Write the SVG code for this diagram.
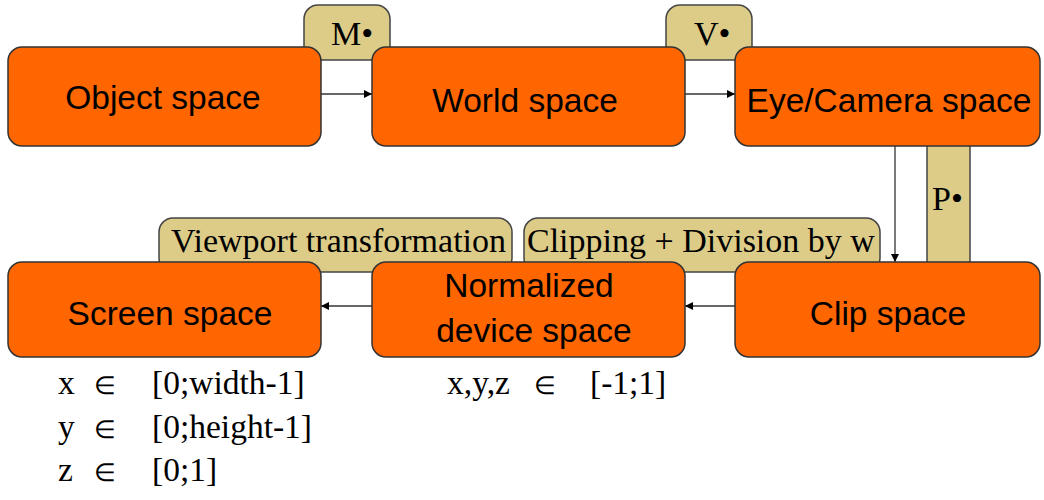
<svg xmlns="http://www.w3.org/2000/svg" width="1044" height="500" viewBox="0 0 1044 500">
  <style>
    .box { fill: #FF6600; stroke: #333; stroke-width: 1.5; }
    .tag { fill: #DDCC88; stroke: #444; stroke-width: 1.5; }
    .btxt { font-family: "Liberation Sans", Arial, sans-serif; font-size: 33.5px; fill: #000; text-anchor: middle; }
    .ttxt { font-family: "Liberation Serif", "Times New Roman", serif; font-size: 34px; fill: #000; }
    .rtxt { font-family: "Liberation Serif", "Times New Roman", serif; font-size: 33.5px; fill: #000; }
    .elem { font-family: "DejaVu Sans", sans-serif; font-weight: 200; font-size: 25px; }
    .conn { stroke: #333; stroke-width: 1.3; fill: none; marker-end: url(#arrow); }
  </style>
  <defs>
    <marker id="arrow" viewBox="0 0 10 10" refX="10" refY="5" markerWidth="8" markerHeight="8" markerUnits="userSpaceOnUse" orient="auto">
      <path d="M0,0 L10,5 L0,10 z" fill="#000"/>
    </marker>
  </defs>
  <rect width="1044" height="500" fill="#fff"/>

  <!-- transformation tags (drawn under the boxes) -->
  <g id="tag-model">
    <rect class="tag" x="304" y="5" width="86" height="55" rx="14"/>
    <text class="ttxt" x="331" y="45">M•</text>
  </g>
  <g id="tag-view">
    <rect class="tag" x="666" y="5" width="86" height="55" rx="14"/>
    <text class="ttxt" x="694" y="45">V•</text>
  </g>
  <g id="tag-projection">
    <rect class="tag" x="927" y="140" width="43" height="128"/>
    <text class="ttxt" x="932" y="210">P•</text>
  </g>
  <g id="tag-viewport">
    <rect class="tag" x="159" y="218" width="353" height="54" rx="14"/>
    <text class="ttxt" x="171" y="252">Viewport transformation</text>
  </g>
  <g id="tag-clipping">
    <rect class="tag" x="524" y="218" width="356" height="54" rx="14"/>
    <text class="ttxt" x="527" y="252">Clipping + Division by w</text>
  </g>

  <!-- connectors -->
  <g id="connectors">
    <line class="conn" x1="321" y1="94" x2="372" y2="94"/>
    <line class="conn" x1="685" y1="94" x2="735" y2="94"/>
    <line class="conn" x1="895" y1="146" x2="895" y2="262"/>
    <line class="conn" x1="735" y1="306" x2="685" y2="306"/>
    <line class="conn" x1="372" y1="306" x2="321" y2="306"/>
  </g>

  <!-- spaces -->
  <g id="object-space">
    <rect class="box" x="8" y="47" width="313" height="99" rx="14"/>
    <text class="btxt" x="163" y="109">Object space</text>
  </g>
  <g id="world-space">
    <rect class="box" x="372" y="47" width="313" height="99" rx="14"/>
    <text class="btxt" x="525" y="112">World space</text>
  </g>
  <g id="eye-space">
    <rect class="box" x="735" y="47" width="305" height="99" rx="14"/>
    <text class="btxt" x="889" y="112">Eye/Camera space</text>
  </g>
  <g id="screen-space">
    <rect class="box" x="8" y="262" width="313" height="95" rx="14"/>
    <text class="btxt" x="170" y="325">Screen space</text>
  </g>
  <g id="ndc-space">
    <rect class="box" x="372" y="262" width="313" height="95" rx="14"/>
    <text class="btxt" x="529" y="297">Normalized</text>
    <text class="btxt" x="534" y="342">device space</text>
  </g>
  <g id="clip-space">
    <rect class="box" x="735" y="262" width="305" height="95" rx="14"/>
    <text class="btxt" x="888" y="325">Clip space</text>
  </g>

  <!-- value ranges -->
  <g id="screen-ranges">
    <text class="rtxt" y="394"><tspan x="58">x</tspan><tspan class="elem" x="94">∈</tspan><tspan x="152">[0;width-1]</tspan></text>
    <text class="rtxt" y="438"><tspan x="58">y</tspan><tspan class="elem" x="94">∈</tspan><tspan x="152">[0;height-1]</tspan></text>
    <text class="rtxt" y="481"><tspan x="58">z</tspan><tspan class="elem" x="94">∈</tspan><tspan x="152">[0;1]</tspan></text>
  </g>
  <g id="ndc-ranges">
    <text class="rtxt" y="394"><tspan x="447">x,y,z</tspan><tspan class="elem" x="534">∈</tspan><tspan x="590">[-1;1]</tspan></text>
  </g>
</svg>
